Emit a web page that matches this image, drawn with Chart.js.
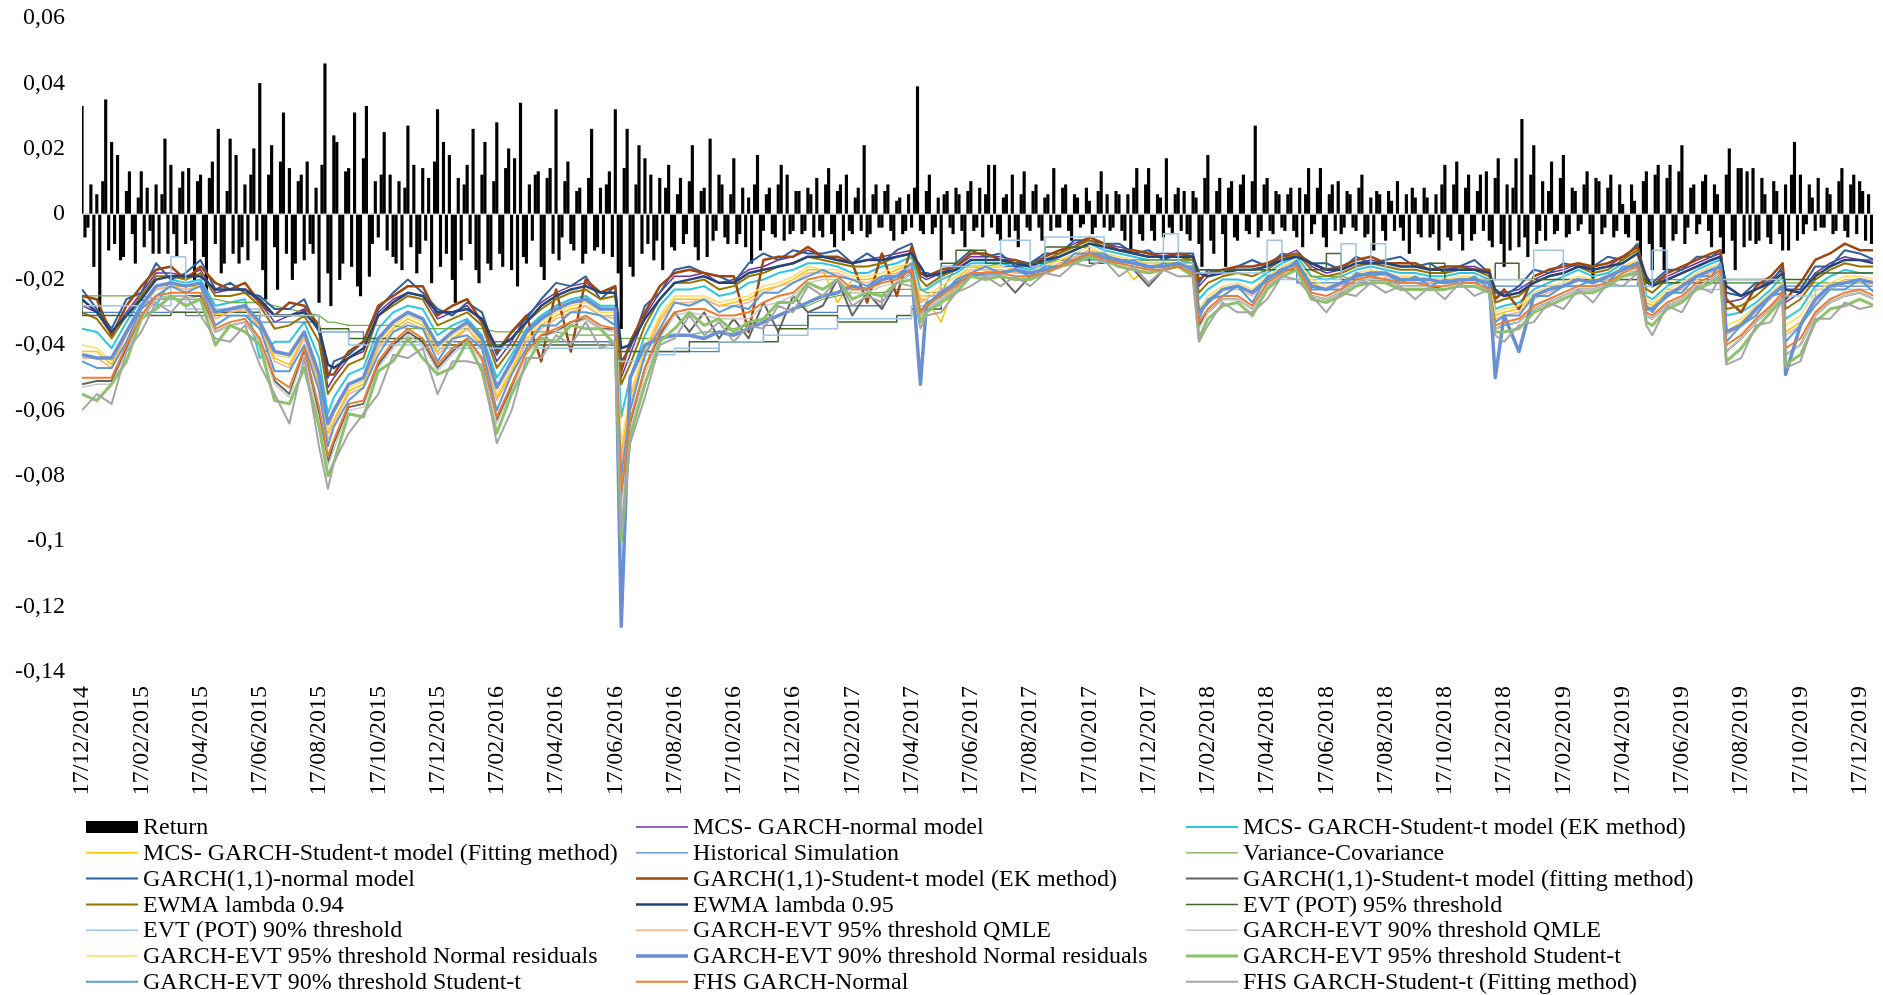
<!DOCTYPE html>
<html>
<head>
<meta charset="utf-8">
<script src="https://cdn.jsdelivr.net/npm/chart.js@4.4.1/dist/chart.umd.min.js"></script>
<style>
  html, body { margin: 0; padding: 0; background: #fff; }
  #chart { display: block; }
</style>
</head>
<body>
<canvas id="chart" width="1883" height="995"></canvas>
<script>
const FONT = '"Liberation Serif", "Times New Roman", serif';

// x axis: months since 17/12/2014, one label every 2 months
const tickLabels = [
  '17/12/2014', '17/02/2015', '17/04/2015', '17/06/2015', '17/08/2015', '17/10/2015', '17/12/2015',
  '17/02/2016', '17/04/2016', '17/06/2016', '17/08/2016', '17/10/2016', '17/12/2016',
  '17/02/2017', '17/04/2017', '17/06/2017', '17/08/2017', '17/10/2017', '17/12/2017',
  '17/02/2018', '17/04/2018', '17/06/2018', '17/08/2018', '17/10/2018', '17/12/2018',
  '17/02/2019', '17/04/2019', '17/06/2019', '17/08/2019', '17/10/2019', '17/12/2019'
];

// returns, in thousandths, one bar every 0.1 month (20 per row = 2 months)
const RETURN_STEP = 0.1;
const returns = [
  33, -7, -4, 9, -16, 6, -30, 10, 35, -11, 22, -9, 18, -14, -13, 7, 13, -6, -15, 5,
  13, -10, 8, -5, -12, 9, -12, 6, 23, -12, 15, -6, -13, 8, 13, -9, 14, -8, -20, 10,
  12, -13, -24, 11, 16, -9, 26, -18, -15, 7, 23, -12, 18, -15, -10, 9, -14, 12, 20, -8,
  40, -17, -26, 12, 21, -10, -23, 16, 31, -12, 14, -20, -15, 10, 12, -14, 16, -9, -12, 8,
  -27, 15, 46, -18, -28, 24, 22, -20, -15, 13, 14, -16, 31, -22, -25, 17, 33, -19, -9, 10,
  -7, 12, 25, -11, 12, -13, -15, 10, -17, 8, 27, -10, 15, -18, -12, 14, -8, 11, -21, 16,
  32, -16, 22, -12, 18, -20, -27, 11, -14, 9, 15, -9, 26, -17, -21, 12, 22, -15, -17, 10,
  28, -12, -16, 14, 20, -17, 17, -22, 34, -13, -15, 9, -8, 12, 13, -16, -20, 11, 14, -12,
  32, -14, -7, 10, 16, -9, -11, 7, 8, -15, -12, 11, 26, -11, -10, 8, -12, 9, 13, -13,
  32, -18, -35, 14, 26, -16, -19, 9, 21, -12, 17, -9, 12, -14, -8, 11, -17, 8, 15, -10,
  -11, 6, 11, -9, -6, 10, 21, -10, -14, 7, 8, -13, 23, -8, -5, 12, 9, -7, -9, 6,
  17, -9, -6, 8, -10, 5, -15, 9, 18, -11, -5, 6, 8, -6, -7, 9, 15, -8, 12, -6,
  -5, 7, 7, -6, -5, 8, 6, -7, 11, -5, -7, 9, 14, -6, -10, 7, 9, -8, 12, -5,
  -6, 5, 8, -5, 21, -7, -6, 6, 9, -4, -4, 7, 9, -5, -8, 4, 5, -6, -5, 6,
  -4, 8, 39, -5, -6, 7, 12, -6, -4, 5, -14, 6, 7, -4, -6, 8, 6, -5, -10, 7,
  10, -5, -4, 8, -7, 6, 15, -4, 15, -6, -8, 5, 6, -7, 12, -5, -10, 6, 13, -4,
  -5, 7, 9, -4, -8, 5, 6, -5, 14, -4, -4, 8, 9, -5, -8, 6, 5, -4, -3, 8,
  4, -6, -4, 7, 13, -4, 6, -5, -4, 7, 6, -5, -8, 6, -12, 8, 14, -6, -8, 9,
  14, -5, -8, 6, 5, -7, 17, -4, -6, 6, 8, -5, 7, -6, -8, 7, 5, -9, -16, 11,
  18, -8, -12, 7, 11, -6, -16, 8, 10, -7, -8, 9, 12, -5, -6, 10, 27, -7, -5, 9,
  11, -5, -6, 7, 6, -4, -5, 6, 8, -5, -7, 8, -10, 6, 14, -6, -3, 8, 14, -7,
  -10, 6, 9, -5, 10, -6, -4, 7, 6, -4, -5, 8, 12, -7, -6, 5, -11, 7, 6, -5,
  -8, 7, 4, -5, 10, -4, -8, 6, -12, 8, 5, -6, -7, 8, 5, -7, -6, 6, -11, 9,
  15, -7, -8, 9, 16, -6, -11, 8, 12, -8, -6, 7, 12, -5, 13, -8, -10, 11, 17, -9,
  -16, 9, -11, 8, 17, -10, 29, -7, -13, 12, 21, -9, -5, 10, -8, 7, 16, -6, -5, 11,
  18, -7, -6, 8, 7, -5, -3, 9, 13, -6, -21, 11, 10, -6, -4, 8, 12, -7, -5, 9,
  3, -6, -7, 9, 4, -8, -14, 10, 13, -9, -17, 12, 15, -10, -17, 11, 15, -8, -6, 13,
  21, -9, -4, 8, 9, -6, -3, 10, 12, -5, -10, 9, 6, -7, -12, 12, 20, -8, -17, 14,
  14, -10, 13, -8, 14, -9, -8, 11, 6, -7, -9, 10, 7, -6, -11, 9, -11, 12, 22, -8,
  12, -6, -3, 9, 5, -5, 11, -4, -4, 8, 6, -6, -5, 10, 14, -5, -7, 9, 12, -6,
  10, 7, -8, 6, -9
];

// sample positions (months) shared by all VaR series
const lineMonths = [
  0, 0.5, 1, 1.5, 2, 2.5, 3, 3.5, 4, 4.5,
  5, 5.5, 6, 6.5, 7, 7.5, 8, 8.3, 8.5, 9,
  9.5, 10, 10.5, 11, 11.5, 12, 12.5, 13, 13.5, 14,
  14.5, 15, 15.5, 16, 16.5, 17, 17.5, 18, 18.2, 18.5,
  19, 19.5, 20, 20.5, 21, 21.5, 22, 22.5, 23, 23.5,
  24, 24.5, 25, 25.5, 26, 26.5, 27, 27.5, 28, 28.3,
  28.5, 29, 29.5, 30, 30.5, 31, 31.5, 32, 32.5, 33,
  33.5, 34, 34.5, 35, 35.5, 36, 36.5, 37, 37.5, 37.7,
  38, 38.5, 39, 39.5, 40, 40.5, 41, 41.5, 42, 42.5,
  43, 43.5, 44, 44.5, 45, 45.5, 46, 46.5, 47, 47.5,
  47.7, 48, 48.5, 49, 49.5, 50, 50.5, 51, 51.5, 52,
  52.5, 52.8, 53, 53.5, 54, 54.5, 55, 55.3, 55.5, 56,
  56.5, 57, 57.4, 57.5, 58, 58.5, 59, 59.5, 60, 60.5
];

// VaR series, in thousandths
const mcsNormal = [
  -28, -30, -37, -30, -24, -18, -18, -19, -17, -24,
  -23, -23, -27, -33, -31, -29, -36, -53, -50, -44,
  -42, -30, -26, -24, -25, -32, -30, -28, -33, -45,
  -39, -31, -27, -24, -22, -21, -24, -24, -50, -43,
  -31, -24, -19, -19, -18, -21, -20, -17, -16, -14,
  -13, -11, -13, -14, -15, -14, -13, -12, -11, -19,
  -20, -18, -16, -13, -13, -13, -14, -15, -13, -11,
  -9, -7, -9, -10, -11, -12, -12, -12, -13, -22,
  -19, -17, -17, -17, -16, -13, -11, -16, -18, -17,
  -15, -14, -15, -16, -16, -17, -17, -16, -16, -18,
  -26, -24, -23, -20, -18, -17, -15, -17, -16, -13,
  -10, -21, -22, -19, -17, -15, -13, -12, -27, -26,
  -23, -20, -17, -27, -24, -18, -15, -13, -14, -14
];
const mcsStudentEK = [
  -35, -36, -41, -33, -26, -28, -20, -21, -20, -28,
  -27, -26, -44, -39, -39, -33, -44, -61, -56, -49,
  -47, -35, -30, -28, -29, -37, -34, -32, -37, -50,
  -43, -35, -31, -28, -26, -25, -28, -28, -62, -50,
  -37, -28, -23, -23, -22, -25, -24, -21, -20, -18,
  -17, -15, -15, -16, -18, -18, -16, -15, -13, -23,
  -23, -20, -18, -15, -15, -15, -16, -17, -15, -13,
  -11, -9, -11, -12, -13, -14, -14, -14, -15, -26,
  -23, -20, -20, -21, -18, -15, -13, -19, -20, -19,
  -17, -16, -17, -18, -18, -19, -19, -18, -18, -20,
  -29, -28, -27, -23, -21, -19, -17, -19, -18, -15,
  -12, -25, -26, -22, -20, -17, -15, -14, -31, -30,
  -27, -23, -19, -32, -29, -22, -19, -17, -18, -18
];
const mcsStudentFit = [
  -42, -42, -46, -37, -28, -23, -22, -22, -22, -31,
  -30, -29, -34, -44, -46, -37, -52, -67, -63, -54,
  -52, -40, -35, -32, -34, -42, -38, -35, -40, -56,
  -48, -38, -34, -31, -29, -28, -31, -31, -73, -56,
  -42, -32, -26, -26, -26, -28, -27, -26, -23, -22,
  -20, -17, -17, -27, -20, -20, -19, -17, -15, -26,
  -26, -33, -20, -16, -17, -17, -18, -18, -16, -14,
  -13, -11, -12, -14, -20, -16, -15, -15, -17, -30,
  -26, -23, -22, -24, -20, -17, -15, -21, -23, -21,
  -19, -18, -18, -20, -20, -20, -20, -20, -20, -21,
  -31, -30, -29, -25, -23, -22, -20, -21, -19, -17,
  -14, -27, -28, -24, -22, -19, -17, -16, -36, -33,
  -29, -25, -22, -36, -33, -26, -22, -20, -20, -21
];
const histSim = [
  -30, -30, -30, -30, -30, -30, -30, -30, -31, -31,
  -31, -31, -31, -33, -33, -33, -33, -36, -36, -36,
  -36, -39, -39, -39, -39, -39, -39, -39, -39, -39,
  -39, -39, -39, -39, -39, -39, -39, -39, -42, -42,
  -42, -42, -42, -42, -42, -42, -39, -39, -39, -34,
  -34, -34, -30, -30, -28, -28, -28, -25, -25, -25,
  -25, -25, -16, -16, -16, -16, -16, -16, -16, -14,
  -14, -14, -14, -14, -14, -14, -14, -14, -14, -17,
  -17, -17, -17, -17, -17, -17, -17, -21, -21, -21,
  -21, -21, -21, -21, -21, -21, -21, -21, -21, -21,
  -22, -22, -22, -22, -22, -22, -22, -22, -22, -22,
  -22, -21, -21, -21, -21, -21, -21, -21, -21, -21,
  -21, -21, -21, -22, -22, -22, -22, -22, -22, -22
];
const varCov = [
  -25, -25, -25, -25, -25, -26, -26, -26, -26, -26,
  -27, -27, -27, -28, -29, -30, -31, -33, -33, -34,
  -34, -34, -34, -35, -35, -35, -35, -35, -35, -36,
  -36, -36, -36, -36, -37, -37, -37, -37, -38, -38,
  -38, -38, -37, -37, -36, -36, -35, -34, -32, -31,
  -29, -28, -26, -25, -24, -24, -24, -23, -23, -23,
  -24, -24, -16, -16, -16, -15, -15, -15, -15, -14,
  -14, -13, -13, -14, -14, -14, -14, -14, -14, -17,
  -17, -17, -17, -17, -17, -17, -17, -19, -19, -19,
  -20, -20, -20, -20, -20, -20, -20, -20, -20, -20,
  -20, -20, -20, -20, -20, -20, -20, -20, -20, -20,
  -20, -20, -20, -20, -20, -20, -20, -20, -21, -21,
  -21, -21, -21, -21, -21, -21, -21, -21, -21, -21
];
const garchNormal = [
  -23, -29, -35, -26, -24, -15, -20, -18, -14, -23,
  -21, -24, -25, -29, -29, -26, -36, -50, -45, -43,
  -39, -29, -24, -20, -24, -29, -31, -27, -30, -43,
  -36, -32, -26, -21, -22, -19, -26, -22, -45, -41,
  -28, -24, -17, -16, -18, -19, -21, -15, -12, -14,
  -11, -12, -12, -11, -15, -12, -15, -11, -9, -18,
  -18, -19, -15, -11, -13, -12, -16, -15, -12, -12,
  -8, -8, -9, -9, -12, -11, -14, -12, -12, -21,
  -17, -18, -16, -14, -16, -12, -13, -15, -15, -17,
  -13, -15, -14, -13, -16, -15, -18, -16, -14, -18,
  -24, -25, -22, -17, -18, -15, -16, -16, -13, -14,
  -9, -21, -21, -17, -17, -13, -13, -11, -24, -25,
  -21, -21, -16, -23, -23, -16, -16, -11, -12, -14
];
const garchStudentEK = [
  -25, -26, -37, -28, -22, -17, -16, -20, -16, -21,
  -23, -21, -27, -31, -27, -28, -34, -49, -49, -42,
  -39, -28, -25, -22, -22, -31, -28, -26, -33, -42,
  -36, -31, -45, -23, -42, -20, -24, -22, -48, -39,
  -30, -22, -18, -17, -18, -19, -19, -36, -14, -13,
  -13, -10, -13, -13, -15, -27, -12, -25, -10, -18,
  -19, -17, -16, -12, -12, -14, -14, -16, -13, -11,
  -10, -7, -9, -11, -11, -12, -13, -12, -13, -20,
  -18, -17, -16, -16, -15, -13, -12, -15, -17, -16,
  -14, -13, -15, -15, -15, -17, -16, -16, -17, -17,
  -26, -23, -29, -19, -17, -16, -15, -16, -15, -13,
  -10, -20, -22, -18, -16, -14, -12, -11, -26, -30,
  -22, -19, -15, -26, -21, -14, -12, -9, -11, -11
];
const garchStudentFit = [
  -52, -51, -51, -41, -32, -26, -25, -25, -25, -36,
  -34, -33, -39, -51, -55, -42, -61, -76, -70, -59,
  -58, -46, -40, -36, -39, -47, -42, -38, -44, -63,
  -53, -42, -37, -36, -33, -32, -35, -35, -88, -64,
  -47, -37, -30, -36, -30, -38, -32, -38, -27, -36,
  -25, -30, -28, -20, -31, -24, -29, -21, -18, -31,
  -29, -26, -23, -18, -19, -19, -24, -19, -18, -16,
  -15, -13, -14, -16, -17, -22, -17, -16, -19, -34,
  -30, -26, -26, -29, -22, -19, -17, -25, -26, -24,
  -21, -20, -20, -22, -22, -22, -23, -22, -22, -24,
  -35, -34, -33, -29, -27, -25, -23, -23, -21, -19,
  -17, -31, -32, -28, -26, -22, -20, -18, -42, -38,
  -33, -29, -25, -43, -40, -31, -27, -25, -24, -26
];
const ewma094 = [
  -30, -32, -38, -31, -25, -19, -19, -20, -18, -25,
  -25, -24, -28, -35, -34, -31, -39, -55, -52, -46,
  -44, -31, -28, -25, -26, -34, -32, -30, -34, -47,
  -41, -33, -29, -26, -24, -23, -26, -25, -52, -46,
  -34, -26, -21, -21, -20, -23, -22, -19, -18, -16,
  -15, -13, -14, -15, -16, -16, -15, -13, -12, -20,
  -22, -19, -17, -14, -14, -14, -15, -16, -14, -12,
  -10, -8, -10, -11, -12, -13, -13, -13, -14, -24,
  -21, -19, -18, -19, -17, -14, -12, -17, -19, -18,
  -16, -15, -16, -17, -17, -18, -18, -17, -17, -19,
  -27, -26, -25, -21, -19, -18, -16, -18, -17, -14,
  -11, -23, -24, -20, -18, -16, -14, -13, -29, -28,
  -25, -21, -18, -29, -26, -20, -17, -15, -16, -16
];
const ewma095 = [
  -26, -30, -36, -31, -26, -20, -19, -19, -19, -23,
  -23, -23, -26, -31, -31, -30, -35, -46, -47, -44,
  -41, -31, -27, -24, -25, -30, -30, -29, -32, -41,
  -38, -33, -28, -25, -23, -22, -24, -24, -41, -40,
  -32, -26, -21, -20, -19, -21, -21, -18, -17, -16,
  -15, -13, -13, -14, -15, -14, -14, -13, -12, -16,
  -19, -18, -17, -14, -14, -14, -15, -16, -14, -13,
  -11, -9, -10, -11, -12, -13, -13, -13, -13, -18,
  -19, -18, -17, -17, -16, -14, -13, -15, -17, -17,
  -15, -15, -15, -16, -16, -17, -17, -17, -17, -18,
  -23, -25, -24, -21, -19, -18, -16, -17, -16, -15,
  -12, -19, -22, -20, -18, -16, -14, -13, -22, -25,
  -23, -21, -18, -23, -24, -19, -16, -14, -14, -15
];
const evtPot95 = [
  -25, -31, -31, -31, -31, -31, -31, -30, -30, -30,
  -30, -30, -30, -31, -31, -31, -31, -35, -35, -35,
  -38, -38, -38, -38, -38, -40, -40, -40, -40, -40,
  -40, -40, -40, -40, -40, -40, -40, -40, -42, -42,
  -42, -42, -42, -42, -39, -39, -39, -39, -39, -39,
  -35, -35, -31, -31, -33, -33, -33, -33, -31, -29,
  -29, -29, -15, -11, -11, -15, -15, -15, -15, -10,
  -10, -10, -15, -15, -15, -15, -15, -15, -15, -17,
  -17, -17, -17, -17, -17, -17, -17, -17, -17, -12,
  -20, -20, -20, -20, -20, -20, -15, -20, -20, -20,
  -20, -15, -15, -20, -20, -20, -20, -20, -20, -20,
  -20, -20, -21, -21, -21, -21, -21, -21, -20, -20,
  -20, -20, -20, -20, -20, -20, -18, -18, -18, -18
];
const evtPot90 = [
  -28, -28, -28, -28, -28, -28, -28, -13, -29, -29,
  -29, -29, -29, -31, -31, -31, -31, -36, -36, -36,
  -40, -40, -40, -40, -40, -41, -41, -41, -41, -41,
  -41, -41, -41, -41, -41, -41, -41, -41, -45, -45,
  -45, -43, -43, -41, -41, -41, -39, -39, -39, -37,
  -37, -37, -35, -35, -32, -32, -32, -32, -32, -28,
  -28, -28, -16, -16, -16, -16, -8, -8, -16, -7,
  -7, -7, -7, -15, -15, -15, -15, -6, -15, -18,
  -18, -18, -18, -18, -18, -8, -20, -20, -20, -20,
  -9, -20, -9, -20, -20, -20, -20, -20, -20, -20,
  -20, -20, -20, -20, -11, -11, -22, -22, -22, -22,
  -22, -22, -22, -11, -23, -23, -23, -23, -20, -20,
  -20, -20, -20, -25, -25, -25, -23, -23, -23, -23
];
const gevt95Qmle = [
  -44, -44, -47, -37, -29, -23, -22, -23, -22, -32,
  -30, -29, -35, -45, -47, -38, -53, -69, -64, -55,
  -53, -41, -36, -33, -35, -43, -39, -35, -41, -57,
  -49, -39, -35, -32, -30, -28, -31, -32, -76, -58,
  -43, -33, -27, -27, -26, -28, -28, -27, -24, -22,
  -21, -18, -18, -18, -20, -21, -19, -18, -16, -27,
  -26, -23, -21, -17, -17, -17, -18, -18, -17, -15,
  -13, -11, -13, -14, -15, -16, -16, -15, -17, -30,
  -27, -23, -23, -25, -20, -17, -15, -22, -23, -22,
  -19, -18, -19, -20, -20, -21, -21, -20, -20, -22,
  -32, -31, -30, -26, -24, -22, -20, -21, -20, -17,
  -15, -28, -29, -25, -23, -20, -18, -16, -37, -34,
  -30, -26, -22, -37, -34, -27, -23, -21, -21, -22
];
const gevt90Qmle = [
  -53, -52, -52, -42, -32, -26, -25, -25, -26, -36,
  -34, -33, -39, -52, -56, -43, -63, -77, -72, -60,
  -59, -47, -41, -37, -40, -48, -43, -39, -45, -64,
  -54, -43, -38, -36, -34, -32, -35, -36, -90, -66,
  -49, -38, -31, -30, -31, -32, -32, -32, -28, -27,
  -25, -21, -20, -20, -24, -24, -22, -21, -18, -31,
  -29, -26, -23, -18, -19, -19, -20, -19, -18, -16,
  -15, -13, -14, -16, -17, -18, -17, -16, -19, -35,
  -30, -26, -26, -29, -22, -19, -17, -25, -26, -24,
  -21, -20, -20, -22, -22, -22, -22, -22, -22, -23,
  -35, -34, -33, -29, -27, -25, -23, -23, -21, -19,
  -17, -31, -32, -28, -26, -22, -20, -18, -42, -38,
  -33, -29, -25, -43, -40, -31, -27, -25, -24, -26
];
const gevt95Normal = [
  -40, -41, -45, -36, -28, -22, -21, -22, -21, -30,
  -29, -28, -33, -43, -44, -36, -50, -66, -61, -53,
  -51, -39, -34, -31, -33, -41, -37, -34, -39, -55,
  -47, -37, -33, -30, -28, -27, -30, -30, -70, -55,
  -41, -31, -25, -25, -25, -27, -26, -25, -22, -21,
  -19, -16, -17, -17, -19, -19, -18, -16, -15, -25,
  -25, -22, -19, -16, -16, -16, -17, -18, -16, -14,
  -12, -10, -12, -13, -14, -15, -15, -15, -16, -29,
  -25, -22, -21, -23, -19, -16, -14, -20, -22, -21,
  -18, -17, -18, -19, -19, -20, -20, -19, -19, -21,
  -30, -29, -28, -24, -22, -21, -19, -20, -19, -16,
  -14, -26, -27, -23, -21, -18, -16, -15, -34, -32,
  -28, -24, -21, -34, -31, -24, -21, -19, -19, -20
];
const gevt90Normal = [
  -43, -44, -44, -36, -28, -22, -21, -22, -21, -30,
  -29, -28, -33, -42, -43, -36, -49, -64, -60, -52,
  -50, -38, -33, -30, -32, -40, -36, -33, -38, -53,
  -45, -36, -32, -29, -27, -26, -29, -29, -126, -50,
  -40, -38, -37, -37, -38, -36, -37, -35, -33, -31,
  -29, -27, -25, -24, -22, -23, -20, -19, -17, -52,
  -28, -24, -21, -19, -18, -18, -17, -18, -17, -16,
  -14, -12, -13, -14, -15, -16, -16, -15, -17, -30,
  -27, -23, -22, -24, -20, -17, -15, -22, -23, -21,
  -19, -18, -18, -20, -20, -20, -21, -20, -20, -21,
  -50, -31, -42, -25, -23, -22, -20, -21, -19, -17,
  -15, -29, -29, -25, -22, -19, -17, -16, -36, -34,
  -29, -25, -22, -49, -34, -26, -22, -21, -20, -21
];
const gevt95Student = [
  -55, -57, -52, -45, -32, -29, -25, -28, -26, -40,
  -34, -36, -40, -57, -58, -47, -65, -80, -76, -61,
  -62, -48, -45, -38, -44, -49, -47, -39, -48, -67,
  -55, -46, -38, -39, -34, -35, -35, -40, -100, -68,
  -52, -39, -35, -30, -34, -32, -36, -33, -32, -27,
  -27, -21, -23, -20, -26, -24, -25, -21, -20, -33,
  -30, -27, -24, -19, -20, -19, -20, -20, -18, -16,
  -15, -13, -14, -16, -17, -18, -17, -16, -19, -38,
  -32, -28, -27, -31, -23, -19, -17, -26, -27, -25,
  -22, -21, -21, -23, -23, -23, -23, -22, -22, -24,
  -36, -36, -35, -30, -28, -26, -24, -24, -22, -19,
  -18, -33, -34, -29, -27, -23, -21, -19, -45, -41,
  -35, -30, -26, -46, -43, -33, -29, -28, -26, -28
];
const gevt90Student = [
  -45, -47, -47, -39, -29, -25, -22, -24, -22, -34,
  -31, -31, -35, -48, -48, -40, -54, -71, -65, -57,
  -53, -43, -36, -34, -35, -45, -38, -37, -41, -60,
  -49, -41, -34, -34, -30, -30, -31, -34, -80, -60,
  -43, -35, -27, -28, -26, -30, -28, -29, -24, -24,
  -21, -19, -17, -19, -20, -22, -19, -19, -15, -30,
  -27, -25, -20, -18, -16, -18, -17, -19, -16, -16,
  -12, -12, -12, -15, -14, -17, -15, -16, -16, -32,
  -26, -25, -22, -27, -19, -18, -14, -23, -23, -23,
  -18, -19, -18, -21, -19, -22, -20, -21, -19, -23,
  -33, -31, -31, -25, -25, -22, -22, -20, -21, -16,
  -16, -28, -30, -24, -24, -19, -19, -15, -39, -34,
  -31, -25, -24, -39, -34, -28, -23, -23, -20, -24
];
const fhsNormal = [
  -50, -50, -50, -40, -31, -25, -24, -24, -24, -35,
  -33, -32, -38, -50, -53, -41, -59, -74, -69, -58,
  -57, -45, -39, -35, -38, -46, -41, -38, -44, -62,
  -52, -42, -37, -35, -33, -31, -34, -35, -85, -63,
  -47, -36, -30, -29, -29, -31, -31, -30, -27, -25,
  -24, -20, -19, -19, -23, -23, -21, -20, -17, -30,
  -28, -25, -22, -18, -18, -18, -19, -19, -18, -16,
  -14, -12, -14, -15, -16, -17, -17, -16, -18, -33,
  -29, -25, -25, -28, -21, -18, -16, -24, -25, -23,
  -20, -19, -20, -21, -21, -22, -22, -21, -21, -23,
  -34, -33, -32, -28, -26, -24, -22, -22, -21, -18,
  -16, -30, -31, -27, -25, -21, -19, -17, -40, -37,
  -32, -28, -24, -41, -38, -30, -26, -24, -23, -25
];
const fhsStudentFit = [
  -60, -55, -58, -42, -36, -27, -30, -25, -31, -38,
  -39, -34, -46, -55, -64, -44, -71, -84, -76, -67,
  -61, -55, -43, -44, -41, -55, -45, -45, -46, -70,
  -60, -44, -44, -37, -40, -33, -41, -39, -97, -70,
  -56, -40, -38, -31, -37, -33, -39, -34, -35, -28,
  -30, -22, -25, -20, -28, -25, -27, -21, -22, -35,
  -31, -30, -24, -22, -19, -22, -19, -22, -18, -19,
  -15, -16, -14, -19, -16, -21, -17, -19, -19, -39,
  -34, -27, -30, -30, -26, -19, -20, -25, -30, -24,
  -25, -21, -24, -22, -26, -22, -26, -21, -25, -23,
  -37, -39, -34, -33, -27, -29, -23, -27, -21, -22,
  -18, -34, -37, -28, -30, -22, -24, -19, -46, -44,
  -34, -33, -26, -47, -45, -32, -32, -27, -29, -28
];

// legend order = Excel series order
const series = [
  { label: 'MCS- GARCH-normal model', data: mcsNormal, color: '#7030A0', width: 1.5 },
  { label: 'MCS- GARCH-Student-t model (EK method)', data: mcsStudentEK, color: '#2CC6E0', width: 2 },
  { label: 'MCS- GARCH-Student-t model (Fitting method)', data: mcsStudentFit, color: '#FFC000', width: 1.5 },
  { label: 'Historical Simulation', data: histSim, color: '#4F7FD0', width: 1.3, stepped: true },
  { label: 'Variance-Covariance', data: varCov, color: '#70AD47', width: 1.3 },
  { label: 'GARCH(1,1)-normal model', data: garchNormal, color: '#2F5F9E', width: 2 },
  { label: 'GARCH(1,1)-Student-t model (EK method)', data: garchStudentEK, color: '#9E480E', width: 2.5 },
  { label: 'GARCH(1,1)-Student-t model (fitting method)', data: garchStudentFit, color: '#636363', width: 2 },
  { label: 'EWMA lambda 0.94', data: ewma094, color: '#997300', width: 2 },
  { label: 'EWMA lambda 0.95', data: ewma095, color: '#264478', width: 2.5 },
  { label: 'EVT (POT) 95% threshold', data: evtPot95, color: '#43682B', width: 1.5, stepped: true },
  { label: 'EVT (POT) 90% threshold', data: evtPot90, color: '#9DC3E6', width: 1.5, stepped: true },
  { label: 'GARCH-EVT 95% threshold QMLE', data: gevt95Qmle, color: '#F4B183', width: 1.5 },
  { label: 'GARCH-EVT 90% threshold QMLE', data: gevt90Qmle, color: '#C9C9C9', width: 1.5 },
  { label: 'GARCH-EVT 95% threshold Normal residuals', data: gevt95Normal, color: '#FFD966', width: 1.5 },
  { label: 'GARCH-EVT 90% threshold Normal residuals', data: gevt90Normal, color: '#6A8FD2', width: 3.5 },
  { label: 'GARCH-EVT 95% threshold Student-t', data: gevt95Student, color: '#8CC26A', width: 3 },
  { label: 'GARCH-EVT 90% threshold Student-t', data: gevt90Student, color: '#5B9BD5', width: 2 },
  { label: 'FHS GARCH-Normal', data: fhsNormal, color: '#ED7D31', width: 2 },
  { label: 'FHS GARCH-Student-t (Fitting method)', data: fhsStudentFit, color: '#A5A5A5', width: 2 }
];

const datasets = [{
  type: 'bar',
  label: 'Return',
  data: returns.map((v, i) => ({ x: i * RETURN_STEP, y: v / 1000 })),
  backgroundColor: '#000000',
  barThickness: 2.5,
  grouped: false,
  order: 1
}];

series.forEach((s, i) => {
  datasets.push({
    type: 'line',
    label: s.label,
    data: s.data.map((v, j) => ({ x: lineMonths[j], y: v / 1000 })),
    borderColor: s.color,
    backgroundColor: s.color,
    borderWidth: s.width,
    pointRadius: 0,
    tension: 0,
    stepped: s.stepped ? 'after' : false,
    borderJoinStyle: 'round',
    order: -i - 1   // later series drawn on top, like Excel
  });
});

// three-column legend under the axis
const gridLegend = {
  id: 'gridLegend',
  afterDraw(chart) {
    const ctx = chart.ctx;
    const colX = [86, 636, 1186];
    const top = 827, rowH = 25.8, swatchW = 52, gap = 5;
    ctx.save();
    ctx.font = '24px ' + FONT;
    ctx.textBaseline = 'middle';
    chart.data.datasets.forEach((ds, k) => {
      const x = colX[k % 3];
      const y = top + Math.floor(k / 3) * rowH;
      if (ds.type === 'bar') {
        ctx.fillStyle = '#000';
        ctx.fillRect(x, y - 6, swatchW, 12);
      } else {
        ctx.strokeStyle = ds.borderColor;
        ctx.lineWidth = ds.borderWidth;
        ctx.beginPath();
        ctx.moveTo(x, y);
        ctx.lineTo(x + swatchW, y);
        ctx.stroke();
      }
      ctx.fillStyle = '#000';
      ctx.fillText(ds.label, x + swatchW + gap, y + 1);
    });
    ctx.restore();
  }
};

const fmtComma = v => String(Math.round(v * 100) / 100).replace('.', ',');

new Chart(document.getElementById('chart'), {
  data: { datasets },
  options: {
    responsive: false,
    animation: false,
    devicePixelRatio: 1,
    layout: { padding: { top: 18, right: 10, bottom: 183, left: 0 } },
    plugins: { legend: { display: false }, tooltip: { enabled: false } },
    scales: {
      x: {
        type: 'linear',
        offset: false,
        min: 0,
        max: 60.45,
        afterBuildTicks: scale => { scale.ticks = tickLabels.map((_, i) => ({ value: i * 2 })); },
        afterFit: scale => { scale.height = 140; scale.paddingLeft = 0; scale.paddingRight = 0; },
        grid: { display: false, drawTicks: false, offset: false },
        border: { display: false },
        ticks: {
          autoSkip: false,
          minRotation: 90,
          maxRotation: 90,
          padding: 14,
          color: '#000',
          font: { family: FONT, size: 24 },
          callback: v => tickLabels[Math.round(v / 2)]
        }
      },
      y: {
        min: -0.14,
        max: 0.06,
        afterFit: scale => { scale.width = 82; scale.paddingTop = 0; scale.paddingBottom = 0; },
        grid: {
          drawTicks: false,
          tickLength: 0,
          lineWidth: 2,
          color: c => (c.tick && Math.abs(c.tick.value) < 1e-9) ? '#D9D9D9' : 'rgba(0,0,0,0)'
        },
        border: { display: false },
        ticks: {
          stepSize: 0.02,
          padding: 17,
          color: '#000',
          font: { family: FONT, size: 24 },
          callback: v => fmtComma(v)
        }
      }
    }
  },
  plugins: [gridLegend]
});
</script>
</body>
</html>
